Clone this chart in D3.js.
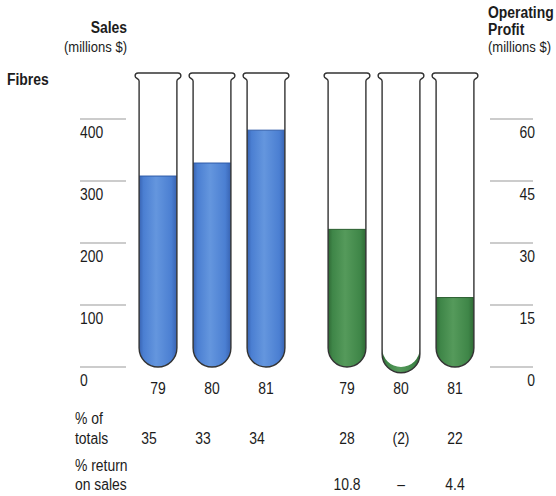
<!DOCTYPE html>
<html><head><meta charset="utf-8">
<script src="https://cdn.jsdelivr.net/npm/d3@7"></script>
<style>
html,body{margin:0;padding:0;background:#fff;}
svg{display:block;}
text{font-family:"Liberation Sans",Arial,sans-serif;fill:#1c1c1c;}
</style></head>
<body>
<script>
const years = ["79", "80", "81"];
const sales = [308, 329, 382];
const profit = [33.3, -1.4, 16.8];
const pctTotalsSales = ["35", "33", "34"];
const pctTotalsProfit = ["28", "(2)", "22"];
const returnOnSales = ["10.8", "–", "4.4"];
const salesTicks = [0, 100, 200, 300, 400];
const profitTicks = [0, 15, 30, 45, 60];

const W = 556, H = 496;
const svg = d3.select("body").append("svg").attr("width", W).attr("height", H);
const defs = svg.append("defs");
const SX = 0.87;

function txt(x, y, s, size, anchor, bold) {
  return svg.append("text")
    .attr("transform", `translate(${x},${y}) scale(${SX},1)`)
    .attr("font-size", size)
    .attr("text-anchor", anchor || "start")
    .attr("font-weight", bold ? "bold" : "normal")
    .text(s);
}

function grad(id, dark, mid, light) {
  const g = defs.append("linearGradient").attr("id", id).attr("x1", "0").attr("x2", "1").attr("y1", "0").attr("y2", "0");
  g.append("stop").attr("offset", "0").attr("stop-color", dark);
  g.append("stop").attr("offset", "0.12").attr("stop-color", mid);
  g.append("stop").attr("offset", "0.45").attr("stop-color", light);
  g.append("stop").attr("offset", "0.85").attr("stop-color", mid);
  g.append("stop").attr("offset", "1").attr("stop-color", dark);
}
grad("blueG", "#3863b2", "#4b7fd2", "#6496de");
grad("greenG", "#2f6a35", "#3f8648", "#559a5b");

const yS = d3.scaleLinear().domain([0, 400]).range([367, 119]);
const yP = d3.scaleLinear().domain([0, 60]).range([367, 119]);

const xS = d3.scaleBand().domain(years).range([131, 293]).paddingInner(0.3).paddingOuter(0.15);
const xP = d3.scaleBand().domain(years).range([320, 482]).paddingInner(0.3).paddingOuter(0.15);

const TOP = 73;
const stroke = "#333";

salesTicks.forEach(t => {
  svg.append("line").attr("x1", 80).attr("x2", 126).attr("y1", yS(t)).attr("y2", yS(t))
    .attr("stroke", "#9a9a9a").attr("stroke-width", 1.2);
  txt(80, yS(t) + 19, t, 16, "start");
});
profitTicks.forEach(t => {
  svg.append("line").attr("x1", 490).attr("x2", 533).attr("y1", yP(t)).attr("y2", yP(t))
    .attr("stroke", "#9a9a9a").attr("stroke-width", 1.2);
  txt(535, yP(t) + 19, t, 16, "end");
});

function tubeOutline(L, R, B) {
  const r = (R - L) / 2;
  return `M${L},${TOP + 8} C${L},${TOP + 5} ${L - 4},${TOP + 6} ${L - 4},${TOP + 3} Q${L - 4},${TOP} ${L - 1},${TOP} ` +
    `L${R + 1},${TOP} Q${R + 4},${TOP} ${R + 4},${TOP + 3} C${R + 4},${TOP + 6} ${R},${TOP + 5} ${R},${TOP + 8} ` +
    `L${R},${B - r} A${r},${r} 0 0 1 ${L},${B - r} Z`;
}
function interior(L, R, B, top) {
  const r = (R - L) / 2;
  return `M${L},${top} L${R},${top} L${R},${B - r} A${r},${r} 0 0 1 ${L},${B - r} Z`;
}

function drawTubes(xs, ys, vals, fillId, edge) {
  const g = svg.append("g");
  years.forEach((yr, i) => {
    const L = xs(yr), R = xs(yr) + xs.bandwidth();
    const r = (R - L) / 2;
    const v = vals[i];
    const B0 = ys(0);
    const B = v < 0 ? ys(v) : B0;
    g.append("path").attr("d", tubeOutline(L, R, B)).attr("fill", "#fff");
    if (v >= 0) {
      g.append("path").attr("d", interior(L, R, B, ys(v))).attr("fill", `url(#${fillId})`);
      g.append("line").attr("x1", L).attr("x2", R).attr("y1", ys(v)).attr("y2", ys(v))
        .attr("stroke", edge).attr("stroke-width", 1);
    } else {
      const d = `M${L},${B - r} A${r},${r} 0 0 0 ${R},${B - r} L${R},${B0 - r} A${r},${r} 0 0 1 ${L},${B0 - r} Z`;
      g.append("path").attr("d", d).attr("fill", `url(#${fillId})`);
    }
    g.append("path").attr("d", tubeOutline(L, R, B)).attr("fill", "none").attr("stroke", stroke).attr("stroke-width", 1.4);
  });
}
drawTubes(xS, yS, sales, "blueG", "#2d5aa8");
drawTubes(xP, yP, profit, "greenG", "#2c5f31");

years.forEach(yr => {
  txt(xS(yr) + xS.bandwidth() / 2, 394, yr, 16, "middle");
  txt(xP(yr) + xP.bandwidth() / 2, 394, yr, 16, "middle");
});

const rowX = 75;
txt(rowX, 424, "% of", 16);
txt(rowX, 444, "totals", 16);
txt(rowX, 471, "% return", 16);
txt(rowX, 490, "on sales", 16);

years.forEach((yr, i) => {
  txt(xS(yr) + xS.bandwidth() / 2 - 9, 444, pctTotalsSales[i], 16, "middle");
  txt(xP(yr) + xP.bandwidth() / 2, 444, pctTotalsProfit[i], 16, "middle");
  txt(xP(yr) + xP.bandwidth() / 2, 490, returnOnSales[i], 16, "middle");
});

txt(127, 33, "Sales", 16, "end", true);
txt(127, 52, "(millions $)", 15, "end");
txt(7, 85, "Fibres", 16, "start", true);
txt(488, 18, "Operating", 16, "start", true);
txt(488, 35, "Profit", 16, "start", true);
txt(488, 52, "(millions $)", 15, "start");
</script>
</body></html>
